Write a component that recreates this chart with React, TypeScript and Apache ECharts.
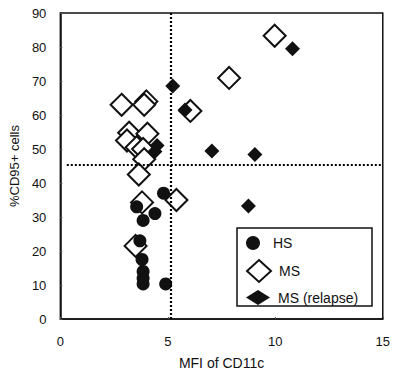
import React, { useEffect, useRef } from "react";
import * as echarts from "echarts";

const xTicks = { min: 0, max: 15, interval: 5 };
const yTicks = { min: 0, max: 90, interval: 10 };

const hsData: number[][] = [
  [4.8, 37], [3.55, 33], [4.4, 31], [3.85, 29], [3.7, 23],
  [3.8, 17.5], [3.85, 14], [3.85, 12], [3.85, 10.3], [4.9, 10.3],
];

const msData: number[][] = [
  [9.97, 83.3], [7.85, 70.9], [6.05, 61.2], [2.85, 63], [4.0, 64], [3.9, 63],
  [3.2, 54.8], [3.1, 52.5], [4.05, 54.5], [3.55, 50.5], [3.85, 50], [3.9, 47],
  [3.65, 42.5], [5.4, 35], [3.8, 34.3], [3.5, 21.5],
];

const relapseData: number[][] = [
  [5.23, 68.5], [5.8, 61.5], [4.5, 51], [4.4, 49.3], [7.05, 49.4],
  [9.05, 48.4], [10.8, 79.5], [8.75, 33.2],
];

const cutX = 5.15;
const cutY = 45.3;
const cutYStart = 0.3;

const FONT = "'Liberation Sans', Arial, Helvetica, sans-serif";

export default function App() {
  const ref = useRef<HTMLDivElement>(null);
  useEffect(() => {
    document.body.style.margin = "0";
    const chart = echarts.init(ref.current!, null, { renderer: "svg" });
    const legendBase = {
      orient: "vertical",
      left: 246,
      padding: 0,
      z: 10,
      itemWidth: 24,
      symbolKeepAspect: true,
      textStyle: { fontFamily: FONT, fontSize: 14, color: "#111", lineHeight: 14, padding: [0, 0, 0, 3] },
      selectedMode: false,
    };
    chart.setOption({
      animation: false,
      backgroundColor: "#fff",
      grid: {
        left: 60, right: 9, top: 13, bottom: 59,
        show: true, borderColor: "#111", borderWidth: 1.5, backgroundColor: "transparent",
      },
      xAxis: {
        type: "value",
        min: xTicks.min, max: xTicks.max, interval: xTicks.interval,
        name: "MFI of CD11c",
        nameLocation: "middle",
        nameGap: 37,
        nameTextStyle: { fontFamily: FONT, fontSize: 14, color: "#111" },
        axisLine: { show: true, onZero: false, lineStyle: { color: "#111", width: 1.5 } },
        axisTick: { show: true, inside: true, length: 2, lineStyle: { color: "#555" } },
        axisLabel: { fontFamily: FONT, fontSize: 13, color: "#111", margin: 16 },
        splitLine: { show: false },
      },
      yAxis: {
        type: "value",
        min: yTicks.min, max: yTicks.max, interval: yTicks.interval,
        name: "%CD95+ cells",
        nameLocation: "middle",
        nameGap: 28,
        nameTextStyle: { fontFamily: FONT, fontSize: 13, color: "#111" },
        axisLine: { show: true, onZero: false, lineStyle: { color: "#111", width: 1.5 } },
        axisTick: { show: true, inside: true, length: 2, lineStyle: { color: "#555" } },
        axisLabel: { fontFamily: FONT, fontSize: 13, color: "#111", margin: 14 },
        splitLine: { show: false },
      },
      legend: [
        { ...legendBase, top: 236, itemHeight: 14, data: [{ name: "HS" }] },
        { ...legendBase, top: 259, itemHeight: 22, data: [{ name: "MS" }] },
        { ...legendBase, top: 290, itemHeight: 15, data: [{ name: "MS (relapse)" }] },
      ],
      graphic: [
        {
          type: "rect",
          z: 3,
          shape: { x: 237, y: 228, width: 135, height: 78 },
          style: { fill: "#fff", stroke: "#111", lineWidth: 1.5 },
        },
      ],
      series: [
        {
          name: "cutoffs",
          type: "scatter",
          data: [],
          markLine: {
            silent: true,
            symbol: "none",
            label: { show: false },
            lineStyle: { type: [2, 2], width: 2.2, color: "#000", opacity: 1 },
            data: [
              [{ coord: [cutX, yTicks.min] }, { coord: [cutX, yTicks.max] }],
              [{ coord: [cutYStart, cutY] }, { coord: [xTicks.max, cutY] }],
            ],
          },
        },
        {
          name: "MS",
          type: "scatter",
          symbol: "diamond",
          symbolSize: 22,
          itemStyle: { color: "#fff", borderColor: "#111", borderWidth: 2, opacity: 1 },
          data: msData,
        },
        {
          name: "HS",
          type: "scatter",
          symbol: "circle",
          symbolSize: 13,
          itemStyle: { color: "#111", opacity: 1 },
          data: hsData,
        },
        {
          name: "MS (relapse)",
          type: "scatter",
          symbol: "diamond",
          symbolSize: 15,
          itemStyle: { color: "#111", opacity: 1 },
          data: relapseData,
        },
      ],
    });
    return () => chart.dispose();
  }, []);
  return <div ref={ref} style={{ width: 393, height: 378 }} />;
}
